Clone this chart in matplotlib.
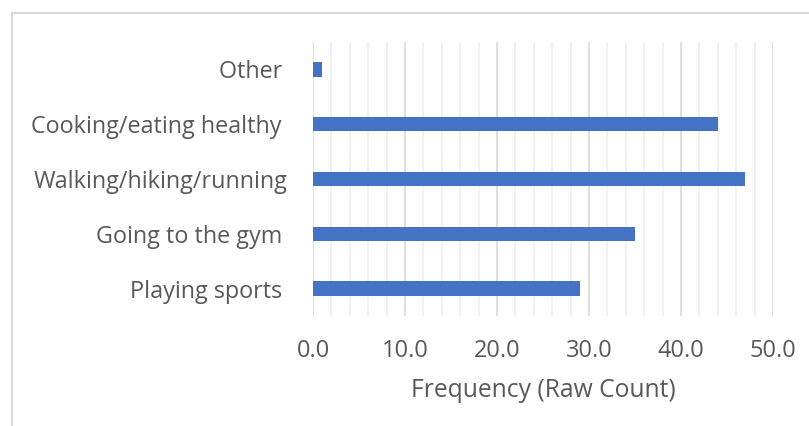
import numpy as np
import matplotlib.pyplot as plt
from matplotlib.patches import Rectangle
from matplotlib.ticker import MultipleLocator

# categories bottom to top, with trailing spaces as in the original labels
categories = ["Playing sports ", "Going to the gym ", "Walking/hiking/running",
              "Cooking/eating healthy ", "Other "]
counts = [29, 35, 47, 44, 1]
xticks = [0, 10, 20, 30, 40, 50]

plt.rcParams['font.family'] = ['Open Sans', 'DejaVu Sans']

fig = plt.figure(figsize=(8.09, 4.26), dpi=100)
ax = fig.add_axes([313 / 809, (426 - 316) / 426, 460 / 809, 274 / 426])

# chart border (light grey, runs off the right and bottom)
fig.patches.append(Rectangle((11.5 / 809, -0.1), 1.2, (426 - 12.5) / 426 + 0.1,
                             transform=fig.transFigure, fill=False,
                             edgecolor='#d9d9d9', linewidth=1.5))

y = np.arange(len(categories))
ax.barh(y, counts, height=0.26, color='#4472c4', zorder=3)

ax.set_xlim(0, 50)
ax.set_ylim(-0.5, len(categories) - 0.5)
ax.xaxis.set_minor_locator(MultipleLocator(2))
ax.grid(axis='x', which='major', color='#d9d9d9', linewidth=1.2, zorder=0)
ax.grid(axis='x', which='minor', color='#efefef', linewidth=1.2, zorder=0)
ax.set_xticks(xticks)
ax.set_xticklabels([f"{v:.1f}" for v in xticks])
ax.set_yticks(y)
ax.set_yticklabels(categories)

for s in ax.spines.values():
    s.set_visible(False)
ax.tick_params(axis='both', which='both', length=0, colors='#595959')
ax.tick_params(axis='y', pad=18, labelsize=16.8)
ax.tick_params(axis='x', pad=16.5, labelsize=17)
ax.set_xlabel("Frequency (Raw Count)", fontsize=17.7, color='#595959', labelpad=11)

fig.savefig("out.png", dpi=100)
